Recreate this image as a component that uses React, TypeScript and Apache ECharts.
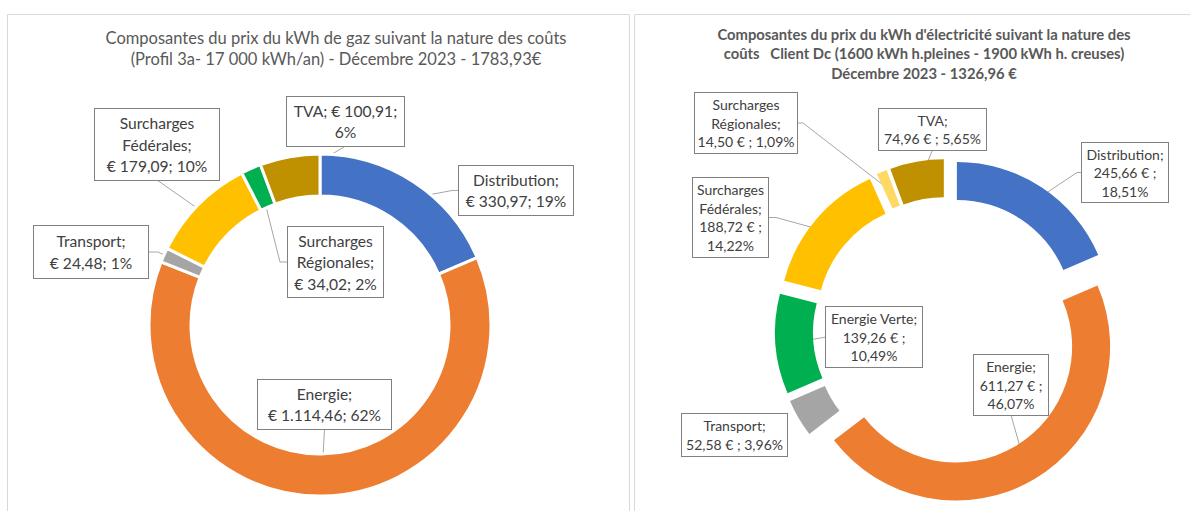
import React, { useEffect, useRef } from 'react';
import * as echarts from 'echarts';

// ---------- DATA ----------
const gasCategories = ['Distribution', 'Energie', 'Transport', 'Surcharges Fédérales', 'Surcharges Régionales', 'TVA'];
const gasValues = [330.97, 1114.46, 24.48, 179.09, 34.02, 100.91];
const gasColors = ['#4472C4', '#ED7D31', '#A5A5A5', '#FFC000', '#00B050', '#BF9000'];
const gasTemplates = ['{n};\n€ {v}; {p}', '{n};\n€ {v}; {p}', '{n};\n€ {v}; {p}', '{n1};\n€ {v}; {p}', '{n1};\n€ {v}; {p}', '{n}; € {v};\n{p}'];
const gasTitle = 'Composantes du prix du kWh de gaz suivant la nature des coûts\n(Profil 3a- 17 000 kWh/an) - Décembre 2023 - 1783,93€';

const elecCategories = ['Distribution', 'Energie', 'Transport', 'Energie Verte', 'Surcharges Fédérales', 'Surcharges Régionales', 'TVA'];
const elecValues = [245.66, 611.27, 52.58, 139.26, 188.72, 14.5, 74.96];
const elecColors = ['#4472C4', '#ED7D31', '#A5A5A5', '#00B050', '#FFC000', '#FFD966', '#BF9000'];
const elecTemplates = ['{n};\n{v} € ;\n{p}', '{n};\n{v} € ;\n{p}', '{n};\n{v} € ; {p}', '{n};\n{v} € ;\n{p}', '{n1};\n{v} € ;\n{p}', '{n1};\n{v} € ; {p}', '{n};\n{v} € ; {p}'];
const elecTitle = "Composantes du prix du kWh d'électricité suivant la nature des\ncoûts   Client Dc (1600 kWh h.pleines - 1900 kWh h. creuses)\nDécembre 2023 - 1326,96 €";

// ---------- LAYOUT / STYLE ----------
const W = 1190;
const H = 511;
const FONT = 'Lato, "Noto Sans", sans-serif';
const TEXT = '#404040';

type Box = { x: number; y: number; w: number; h: number; side?: string; e?: number; frac?: number };

const gasBoxes: Box[] = [
  { x: 459, y: 166, w: 114, h: 49, side: 'left', e: 7, frac: 0.5 },
  { x: 258, y: 380, w: 133, h: 49, side: 'bottom', e: 0, frac: 0.5 },
  { x: 34, y: 226, w: 114, h: 52, side: 'right', e: 10, frac: 0.9 },
  { x: 95, y: 109, w: 124, h: 71, side: 'bottom', e: 0, frac: 0.5 },
  { x: 288, y: 227, w: 95, h: 70, side: 'left', e: 8, frac: 0.26 },
  { x: 287, y: 97, w: 117, h: 49, side: 'bottom', e: 0, frac: 0.5 },
];

const elecBoxes: Box[] = [
  { x: 1082, y: 143, w: 86, h: 59, side: 'left', e: 5, frac: 0.5 },
  { x: 974, y: 355, w: 74, h: 60, side: 'bottom', e: 0, frac: 0.5 },
  { x: 682, y: 414, w: 105, h: 42 },
  { x: 826, y: 307, w: 96, h: 60, side: 'left', e: 0, frac: 0.5 },
  { x: 693, y: 178, w: 75, h: 79, side: 'right', e: 8, frac: 0.5 },
  { x: 695, y: 93, w: 102, h: 60, side: 'right', e: 6, frac: 0.5 },
  { x: 879, y: 109, w: 107, h: 41, side: 'bottom', e: 0, frac: 0.5 },
];

function fmtNum(v: number, thousands: boolean) {
  const [i, d] = v.toFixed(2).split('.');
  const int = thousands ? i.replace(/\B(?=(\d{3})+(?!\d))/g, '.') : i;
  return int + ',' + d;
}

type Cfg = {
  names: string[];
  values: number[];
  colors: string[];
  templates: string[];
  boxes: Box[];
  center: [number, number];
  radius: [number, number];
  offset: number;
  border: number;
  fontSize: number;
  lineHeight: number;
  pctDecimals: number;
  thousands: boolean;
};

function buildSeries(cfg: Cfg) {
  const sum = cfg.values.reduce((a, b) => a + b, 0);
  const cum: number[] = [];
  cfg.values.reduce((acc, v) => {
    cum.push(acc);
    return acc + v;
  }, 0);
  const text = (i: number) => {
    const v = cfg.values[i];
    const pct = cfg.pctDecimals
      ? ((v / sum) * 100).toFixed(cfg.pctDecimals).replace('.', ',') + '%'
      : Math.round((v / sum) * 100) + '%';
    return cfg.templates[i]
      .replace('{n1}', cfg.names[i].replace(' ', '\n'))
      .replace('{n}', cfg.names[i])
      .replace('{v}', fmtNum(v, cfg.thousands))
      .replace('{p}', pct);
  };
  const anchor = (i: number, frac: number) => {
    const a = ((cum[i] + cfg.values[i] / 2) / sum) * Math.PI * 2;
    const r = cfg.radius[0] + (cfg.radius[1] - cfg.radius[0]) * frac + cfg.offset;
    return [cfg.center[0] + r * Math.sin(a), cfg.center[1] - r * Math.cos(a)];
  };
  const common = {
    type: 'pie',
    center: cfg.center,
    radius: cfg.radius,
    startAngle: 90,
    clockwise: true,
    avoidLabelOverlap: false,
    emphasis: { disabled: true },
  };
  const labelled = (transparent: boolean) => ({
    ...common,
    silent: transparent,
    selectedMode: false,
    itemStyle: { borderColor: transparent ? 'rgba(0,0,0,0)' : '#ffffff', borderWidth: transparent ? 0 : cfg.border },
    label: {
      show: true,
      position: 'outside',
      fontFamily: FONT,
      fontSize: cfg.fontSize,
      lineHeight: cfg.lineHeight,
      color: TEXT,
      backgroundColor: '#ffffff',
      borderColor: '#808080',
      borderWidth: 1,
      align: 'center',
      formatter: (p: any) => text(p.dataIndex),
    },
    labelLine: { show: true, length: 5, length2: 5, lineStyle: { color: '#a6a6a6', width: 1 } },
    labelLayout: (p: any) => {
      const b = cfg.boxes[p.dataIndex];
      const res: any = { x: b.x + b.w / 2, y: b.y, align: 'center', verticalAlign: 'top' };
      if (b.side) {
        const a = anchor(p.dataIndex, b.frac ?? 0.5);
        const e = b.e ?? 0;
        let att: number[];
        let elb: number[];
        if (b.side === 'left') {
          att = [b.x, b.y + b.h / 2];
          elb = [b.x - e, att[1]];
        } else if (b.side === 'right') {
          att = [b.x + b.w, b.y + b.h / 2];
          elb = [b.x + b.w + e, att[1]];
        } else {
          att = [b.x + b.w / 2, b.y + b.h];
          elb = [att[0], att[1] + e];
        }
        res.labelLinePoints = [a, elb, att];
      }
      return res;
    },
    data: cfg.values.map((v, i) => {
      const b = cfg.boxes[i];
      const lines = cfg.templates[i].split('\n').length + (cfg.templates[i].includes('{n1}') ? 1 : 0);
      const padV = Math.max(0, (b.h - lines * cfg.lineHeight) / 2);
      return {
        name: cfg.names[i],
        value: v,
        itemStyle: { color: transparent ? 'rgba(0,0,0,0)' : cfg.colors[i] },
        label: { width: b.w, padding: [padV, 0, padV, 0] },
        labelLine: { show: !!b.side },
      };
    }),
  });

  if (!cfg.offset) return [labelled(false)];

  // exploded ring (every slice pulled out), labels drawn by an overlaid transparent copy
  const ring = {
    ...common,
    selectedMode: 'multiple',
    selectedOffset: cfg.offset,
    itemStyle: { borderWidth: 0 },
    select: { itemStyle: { borderWidth: 0 } },
    label: { show: false },
    labelLine: { show: false },
    data: cfg.values.map((v, i) => ({
      name: cfg.names[i],
      value: v,
      selected: true,
      itemStyle: { color: cfg.colors[i] },
      select: { itemStyle: { color: cfg.colors[i] } },
    })),
  };
  return [ring, labelled(true)];
}

const option: any = {
  animation: false,
  backgroundColor: '#ffffff',
  title: [
    {
      text: gasTitle,
      left: 331,
      top: 22,
      textAlign: 'center',
      textStyle: { fontFamily: FONT, fontSize: 16.5, fontWeight: 'normal', color: '#595959', lineHeight: 21 },
    },
    {
      text: elecTitle,
      left: 919,
      top: 19,
      textAlign: 'center',
      textStyle: { fontFamily: FONT, fontSize: 14.8, fontWeight: 'bold', color: '#595959', lineHeight: 19.5 },
    },
  ],
  graphic: [
    { type: 'rect', shape: { x: 7.5, y: 14.5, width: 622, height: 510 }, style: { fill: 'none', stroke: '#d9d9d9', lineWidth: 1 }, z: -10 },
    { type: 'rect', shape: { x: 634.5, y: 14.5, width: 560, height: 510 }, style: { fill: 'none', stroke: '#d9d9d9', lineWidth: 1 }, z: -10 },
  ],
  series: [
    ...buildSeries({
      names: gasCategories,
      values: gasValues,
      colors: gasColors,
      templates: gasTemplates,
      boxes: gasBoxes,
      center: [320, 325],
      radius: [129, 171],
      offset: 0,
      border: 3,
      fontSize: 15.6,
      lineHeight: 21.5,
      pctDecimals: 0,
      thousands: true,
    }),
    ...buildSeries({
      names: elecCategories,
      values: elecValues,
      colors: elecColors,
      templates: elecTemplates,
      boxes: elecBoxes,
      center: [947, 331],
      radius: [116, 154],
      offset: 18,
      border: 0,
      fontSize: 14,
      lineHeight: 18.5,
      pctDecimals: 2,
      thousands: false,
    }),
  ],
};

export default function App() {
  const ref = useRef<HTMLDivElement>(null);
  useEffect(() => {
    const chart = echarts.init(ref.current as HTMLDivElement, null, { renderer: 'svg', width: W, height: H });
    chart.setOption(option);
    return () => chart.dispose();
  }, []);
  return <div ref={ref} style={{ position: 'fixed', left: 0, top: 0, width: W, height: H, background: '#fff' }} />;
}
